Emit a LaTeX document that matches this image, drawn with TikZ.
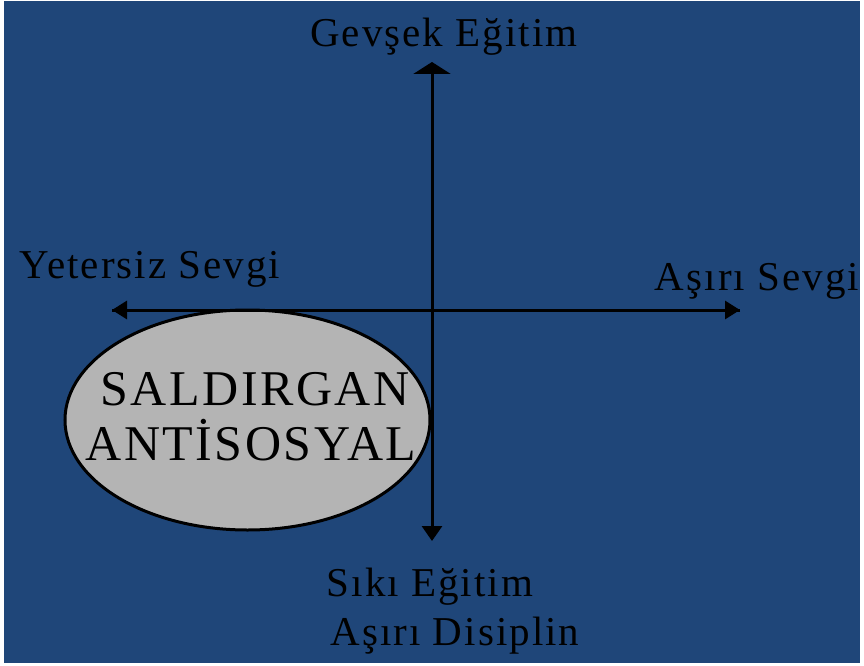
\documentclass[tikz,border=0pt]{standalone}
\usepackage{fontspec}
\setmainfont{Liberation Serif}[LetterSpace=5]
\usetikzlibrary{arrows.meta,shapes.geometric}
\definecolor{panelblue}{HTML}{1F4679}
\definecolor{blobgray}{HTML}{B4B4B4}

\begin{document}
\begin{tikzpicture}[x=1pt, y=-1pt, every node/.style={font=\fontsize{41}{44}\selectfont, inner sep=0pt, anchor=base},
	axis/.style={line width=3pt, -{Triangle[width=18pt,length=15pt]}}]
	\useasboundingbox (0,0) rectangle (864,666);
	\fill[white] (0,0) rectangle (864,666);
	\fill[panelblue] (4,1) rectangle (860,663);
	% quadrant blob
	\node (blob) [ellipse, draw, line width=3pt, fill=blobgray, minimum width=365pt, minimum height=220pt, anchor=center] at (247.5,420) {};
	\node (blobtop) [font=\fontsize{50}{54}\selectfont] at (255,405) {SALDIRGAN};
	\node (blobbot) [font=\fontsize{50}{54}\selectfont] at (251,460) {ANTİSOSYAL};
	% axes
	\coordinate (top) at (432,62);
	\coordinate (bottom) at (432,541);
	\coordinate (left) at (112,310);
	\coordinate (right) at (740,310);
	\draw[axis, {Triangle[width=37pt,length=12pt]}-{Triangle[width=20pt,length=15pt]}] (top) -- (bottom);
	\draw[axis] (right) -- (left);
	\draw[axis] (left) -- (right);
	% labels
	\node (loose) at (444,47) {Gevşek Eğitim};
	\node (less) at (150,278) {Yetersiz Sevgi};
	\node (more) at (757,290) {Aşırı Sevgi};
	\node (strict) at (430,596) {Sıkı Eğitim};
	\node (discipline) at (455,645) {Aşırı Disiplin};
\end{tikzpicture}
\end{document}
